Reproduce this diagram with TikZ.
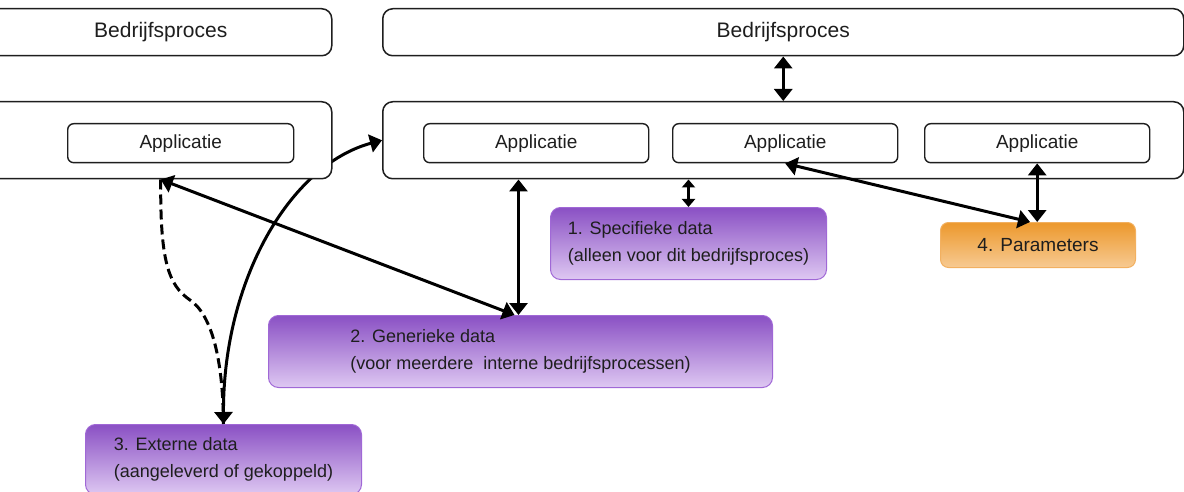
\documentclass[tikz,border=0pt]{standalone}
\usepackage{fontspec}
\setmainfont{Liberation Sans}
\usetikzlibrary{arrows.meta,calc}
\pgfdeclarelayer{bg}
\pgfsetlayers{bg,main}
\definecolor{ink}{RGB}{30,30,30}
\definecolor{purpletop}{RGB}{138,80,196}
\definecolor{purplebot}{RGB}{222,200,242}
\definecolor{purpleline}{RGB}{160,104,214}
\definecolor{orangetop}{RGB}{236,152,44}
\definecolor{orangebot}{RGB}{247,202,146}
\definecolor{orangeline}{RGB}{242,176,96}
\tikzset{
  frame/.style={draw=ink, line width=1.5pt, fill=white, rounded corners=10pt,
    anchor=north west, inner sep=0pt, text=ink,
    font=\fontsize{21}{25}\selectfont},
  appbox/.style={draw=ink, line width=1.4pt, fill=white, rounded corners=6pt,
    anchor=north west, inner sep=0pt, text=ink,
    font=\fontsize{19}{23}\selectfont},
  databox/.style={draw=purpleline, line width=1pt, rounded corners=10pt,
    top color=purpletop, bottom color=purplebot, anchor=north west,
    inner sep=0pt, align=left, text=ink,
    font=\fontsize{18}{27}\selectfont},
  parbox/.style={draw=orangeline, line width=1pt, rounded corners=8pt,
    top color=orangetop, bottom color=orangebot, anchor=north west,
    inner sep=0pt, text=ink, font=\fontsize{19}{23}\selectfont},
  link/.style={line width=3pt, black,
    {Triangle[length=12pt,width=18pt]}-{Triangle[length=12pt,width=18pt]}},
  smalllink/.style={line width=2.4pt, black,
    {Triangle[length=8pt,width=13pt]}-{Triangle[length=8pt,width=13pt]}},
  dashlink/.style={line width=3pt, black, dash pattern=on 10pt off 5pt}
}
\begin{document}
\begin{tikzpicture}[x=1pt,y=-1pt]
\useasboundingbox (0,0) rectangle (1184,492);
\clip (0,0) rectangle (1184,492);

% business process bars
\node[frame, minimum width=342pt, minimum height=47pt] (bp1) at (-11,8) {Bedrijfsproces};
\node[frame, minimum width=801pt, minimum height=47pt] (bp2) at (382,8) {Bedrijfsproces};

% application layers
\node[frame, minimum width=342pt, minimum height=77pt] (cont1) at (-11,101) {};
\node[frame, minimum width=801pt, minimum height=77pt] (cont2) at (382,101) {};

\node[appbox, minimum width=226pt, minimum height=39pt] (app0) at (67,123) {Applicatie};
\node[appbox, minimum width=225pt, minimum height=39pt] (app1) at (423,123) {Applicatie};
\node[appbox, minimum width=225pt, minimum height=39pt] (app2) at (672,123) {Applicatie};
\node[appbox, minimum width=225pt, minimum height=39pt] (app3) at (924,123) {Applicatie};

% data sources
\node[databox, minimum width=276pt, minimum height=72pt] (spec) at (550,207)
  {1. Specifieke data\\(alleen voor dit bedrijfsproces)};
\node[databox, minimum width=504pt, minimum height=72pt] (gen) at (268,315)
  {2. Generieke data\\(voor meerdere\ \ interne bedrijfsprocessen)};
\node[databox, minimum width=276pt, minimum height=70pt] (ext) at (85,424)
  {3. Externe data\\(aangeleverd of gekoppeld)};
\node[parbox, minimum width=195pt, minimum height=45pt] (par) at (940,222) {4. Parameters};

% connectors
\draw[link] (bp2.south) -- (cont2.north);
\draw[smalllink] (spec.north) -- (spec.north |- cont2.south);
\draw[link] ($(gen.north)+(-2,0)$) -- ($(gen.north |- cont2.south)+(-2,0)$);
\draw[link] (cont1.south) -- ($(gen.north)+(-6,0)$);
\draw[link] (app3.south) -- (app3.south |- par.north);
\draw[link] ($(par.north)+(-8,0)$) -- (app2.south);
\draw[dashlink] (cont1.south) .. controls (160,260) and (168,285) .. (190,300)
  .. controls (212,315) and (223,360) .. (ext.north);
\begin{pgfonlayer}{bg}
  \draw[link] (ext.north) .. controls (223,280) and (290,165) .. (cont2.west);
\end{pgfonlayer}
\end{tikzpicture}
\end{document}
